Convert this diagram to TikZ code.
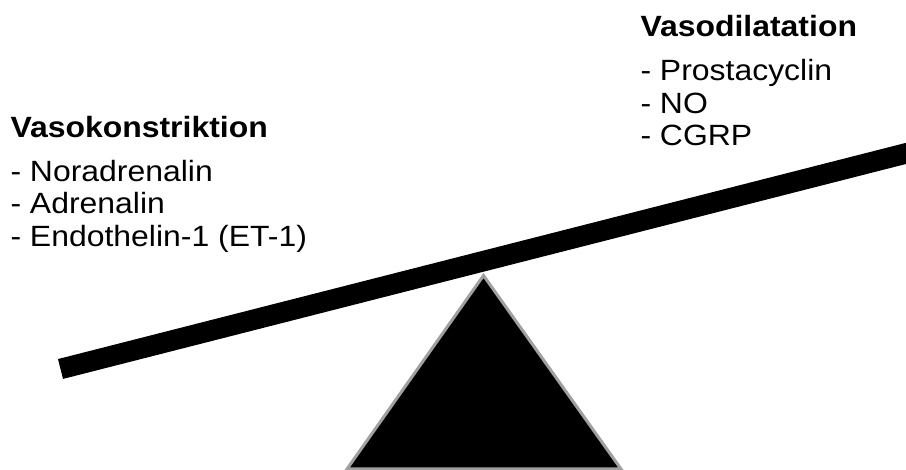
\documentclass[tikz,border=0pt]{standalone}
\usepackage{fontspec}
\setmainfont[FakeStretch=1.09]{Liberation Sans}
\begin{document}
\begin{tikzpicture}[x=1pt,y=-1pt,
  txt/.style={anchor=base west,inner sep=0pt,outer sep=0pt,font=\fontsize{29.3}{32.5}\selectfont},
  head/.style={txt,font=\fontsize{29.3}{32.5}\selectfont\bfseries},
  beam/.style={line width=20.5pt,line cap=butt,black},
  fulcrum/.style={fill=black,draw={rgb,255:red,160;green,160;blue,160},line width=3pt,line join=miter}]
\useasboundingbox (0,0) rectangle (906,470);
\clip (0,0) rectangle (906,470);
% fulcrum
\coordinate (apex) at (483.5,275.5);
\coordinate (bl) at (347,469);
\coordinate (br) at (621,469);
\draw[fulcrum] (apex) -- (bl) -- (br) -- cycle;
% beam
\coordinate (beamL) at (60.5,369);
\coordinate (beamR) at (930,147.3);
\draw[beam] (beamL) -- (beamR);
% left text
\node[head] (vk) at (10.5,137.5) {Vasokonstriktion};
\node[txt] (vk1) at (10.5,181.5) {- Noradrenalin};
\node[txt] (vk2) at (10.5,214) {- Adrenalin};
\node[txt] (vk3) at (10.5,246.5) {- Endothelin-1 (ET-1)};
% right text
\node[head] (vd) at (640.5,36.5) {Vasodilatation};
\node[txt] (vd1) at (640.5,81) {- Prostacyclin};
\node[txt] (vd2) at (640.5,113.5) {- NO};
\node[txt] (vd3) at (640.5,146) {- CGRP};
\end{tikzpicture}
\end{document}
